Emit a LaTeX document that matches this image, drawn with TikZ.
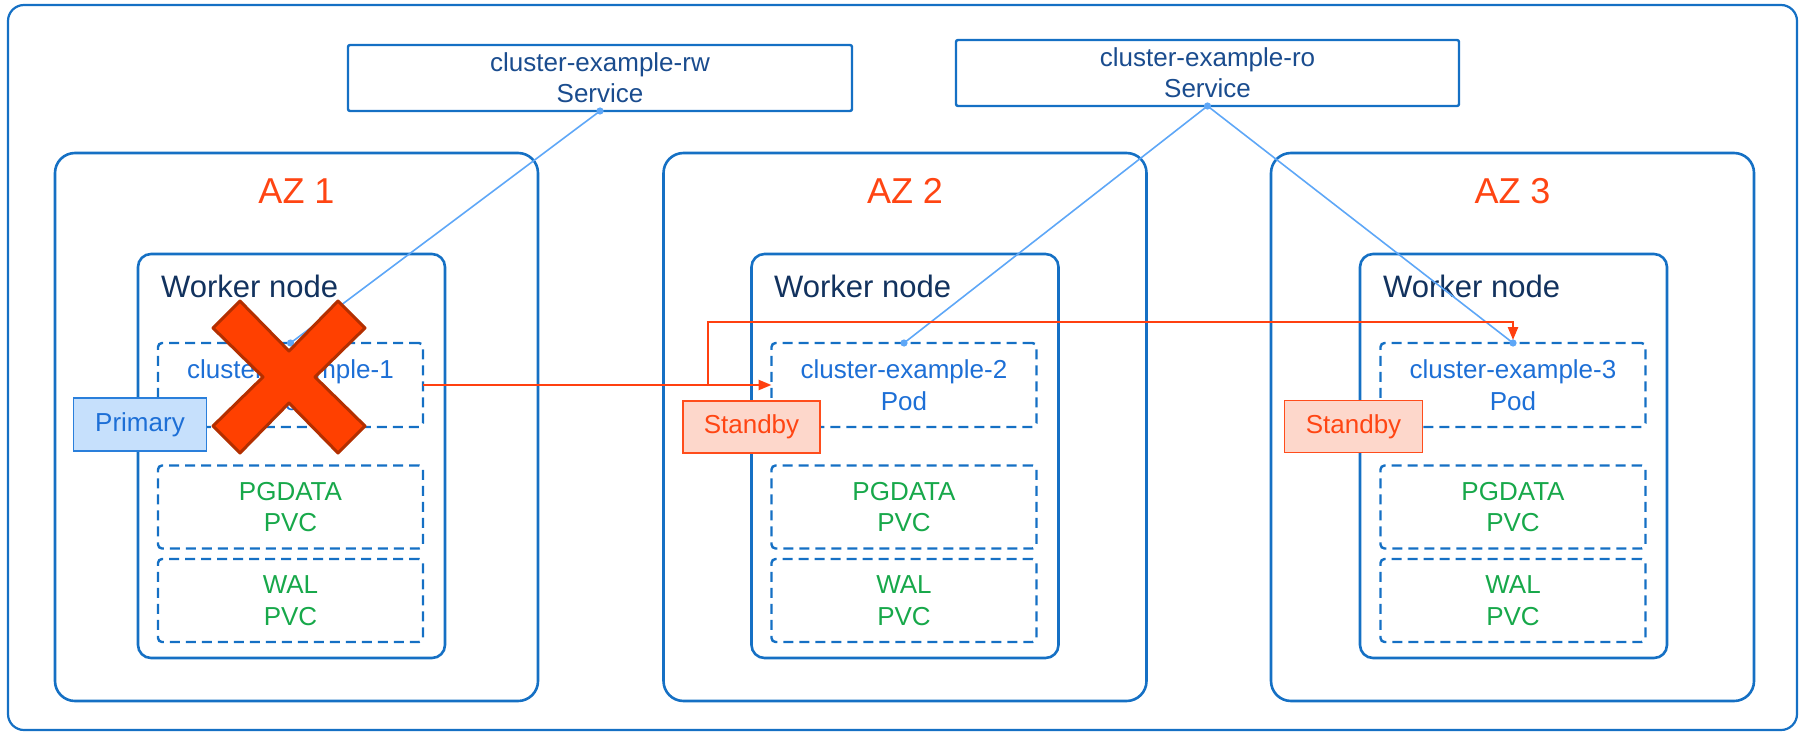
\documentclass[tikz,border=0pt]{standalone}
\usepackage{fontspec}
\setmainfont{Liberation Sans}
\usetikzlibrary{arrows.meta}
\definecolor{boxblue}{HTML}{1570C4}
\definecolor{navytext}{HTML}{12325E}
\definecolor{svctext}{HTML}{1A4C8E}
\definecolor{podblue}{HTML}{1D6FD6}
\definecolor{pvcgreen}{HTML}{17A84A}
\definecolor{azred}{HTML}{FF4513}
\definecolor{linered}{HTML}{FF4010}
\definecolor{xfill}{HTML}{FF4000}
\definecolor{xborder}{HTML}{B32F00}
\definecolor{svcline}{HTML}{5EA7F7}
\definecolor{primfill}{HTML}{C6E0FC}
\definecolor{primdraw}{HTML}{2A7FDB}
\definecolor{stbfill}{HTML}{FDD7CB}
\definecolor{stbdraw}{HTML}{FF4D1C}
\tikzset{
  box/.style={draw=boxblue, line width=2.6pt, rectangle, inner sep=0pt, outer sep=0pt},
  outerbox/.style={box, rounded corners=16pt, line width=2.2pt},
  azbox/.style={box, rounded corners=20pt},
  workerbox/.style={box, rounded corners=13pt},
  dashbox/.style={box, dash pattern=on 10pt off 6pt, rounded corners=4pt, line width=2.4pt,
     align=center, font=\fontsize{26}{31.5}\selectfont},
  podbox/.style={dashbox, text=podblue, minimum width=265pt, minimum height=84pt},
  pvcbox/.style={dashbox, text=pvcgreen, minimum width=265pt, minimum height=83pt},
  svcbox/.style={box, line width=2.4pt, rounded corners=2pt, text=svctext, align=center,
     font=\fontsize{26}{31}\selectfont, minimum height=66pt},
  azlabel/.style={text=azred, font=\fontsize{36}{40}\selectfont, inner sep=0pt},
  wnlabel/.style={text=navytext, font=\fontsize{31}{36}\selectfont, anchor=base west, inner sep=0pt},
  primlabel/.style={rectangle, fill=primfill, draw=primdraw, line width=1.8pt, text=podblue,
     font=\fontsize{26}{31}\selectfont, inner sep=0pt, minimum width=133pt, minimum height=53pt},
  stblabel/.style={rectangle, fill=stbfill, draw=stbdraw, line width=1.8pt, text=azred,
     font=\fontsize{26}{31}\selectfont, inner sep=0pt, minimum width=137pt, minimum height=52pt},
  svcconn/.style={draw=svcline, line width=1.6pt},
  dotend/.style={fill=svcline},
  repl/.style={draw=linered, line width=2.4pt},
  replarrow/.style={repl, -{Triangle[length=13pt,width=10pt]}},
  xmark/.style={fill=xfill, draw=xborder, line width=3pt, line join=round}
}
\begin{document}
\begin{tikzpicture}[x=1pt,y=-1pt]
\useasboundingbox (0,0) rectangle (1803,733);
% outer frame
\node[outerbox, minimum width=1789pt, minimum height=725pt] (frame) at (902.5,367.5) {};
% services
\node[svcbox, minimum width=504pt] (rw) at (600,78) {cluster-example-rw\\Service};
\node[svcbox, minimum width=503pt] (ro) at (1207.5,73) {cluster-example-ro\\Service};
% availability zones
\node[azbox, minimum width=483pt, minimum height=548pt] (az1) at (296.5,427) {};
\node[azbox, minimum width=483pt, minimum height=548pt] (az2) at (905,427) {};
\node[azbox, minimum width=483pt, minimum height=548pt] (az3) at (1512.5,427) {};
\node[azlabel] (az1t) at (296.5,191) {AZ 1};
\node[azlabel] (az2t) at (905,191) {AZ 2};
\node[azlabel] (az3t) at (1512.5,191) {AZ 3};
% worker nodes
\node[workerbox, minimum width=307pt, minimum height=404pt] (w1) at (291.5,456) {};
\node[workerbox, minimum width=307pt, minimum height=404pt] (w2) at (905,456) {};
\node[workerbox, minimum width=307pt, minimum height=404pt] (w3) at (1513.5,456) {};
\node[wnlabel] (w1t) at (161,297) {Worker node};
\node[wnlabel] (w2t) at (774,297) {Worker node};
\node[wnlabel] (w3t) at (1383,297) {Worker node};
% pods and volumes
\node[podbox] (pod1) at (290.5,385) {cluster-example-1\\Pod};
\node[podbox] (pod2) at (904,385) {cluster-example-2\\Pod};
\node[podbox] (pod3) at (1513,385) {cluster-example-3\\Pod};
\node[pvcbox] (pg1) at (290.5,507) {PGDATA\\PVC};
\node[pvcbox] (pg2) at (904,507) {PGDATA\\PVC};
\node[pvcbox] (pg3) at (1513,507) {PGDATA\\PVC};
\node[pvcbox] (wal1) at (290.5,600.5) {WAL\\PVC};
\node[pvcbox] (wal2) at (904,600.5) {WAL\\PVC};
\node[pvcbox] (wal3) at (1513,600.5) {WAL\\PVC};
% service connectors
\draw[svcconn] (rw.south) -- (pod1.north);
\draw[svcconn] (ro.south) -- (pod2.north);
\draw[svcconn] (ro.south) -- (pod3.north);
\fill[dotend] (rw.south) circle[radius=3.6pt];
\fill[dotend] (ro.south) circle[radius=3.6pt];
\fill[dotend] (pod1.north) circle[radius=3.6pt];
\fill[dotend] (pod2.north) circle[radius=3.6pt];
\fill[dotend] (pod3.north) circle[radius=3.6pt];
% replication
\coordinate (br) at (708,385);
\draw[repl] (pod1.east) -- (br);
\draw[replarrow] (br) -- (pod2.west);
\draw[replarrow, shorten >=3pt] (br) -- ++(0,-63) -| (pod3.north);
% role labels
\node[primlabel] (prim) at (140,424.5) {Primary};
\node[stblabel] (stb2) at (751.5,427) {Standby};
\node[stblabel, minimum width=138pt] (stb3) at (1353.5,426.5) {Standby};
% failure mark
\begin{scope}[shift={(289,377)}]
\draw[xmark] (-49,-76) -- (0,-26) -- (49,-76) -- (76,-49) -- (26,0) -- (76,49) -- (49,76)
  -- (0,26) -- (-49,76) -- (-76,49) -- (-26,0) -- (-76,-49) -- cycle;
\end{scope}
\end{tikzpicture}
\end{document}
